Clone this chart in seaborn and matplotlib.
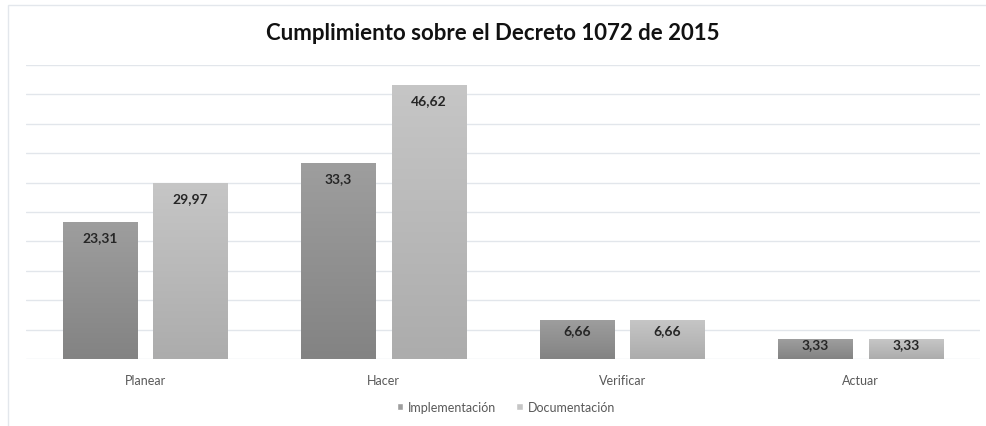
import numpy as np
import pandas as pd
import matplotlib
matplotlib.use("Agg")
import matplotlib.pyplot as plt
import seaborn as sns
from matplotlib.colors import LinearSegmentedColormap
from matplotlib.patches import Rectangle

# data
categories = ["Planear", "Hacer", "Verificar", "Actuar"]
implementacion = [23.31, 33.3, 6.66, 3.33]
documentacion = [29.97, 46.62, 6.66, 3.33]
labels_impl = ["23,31", "33,3", "6,66", "3,33"]
labels_doc = ["29,97", "46,62", "6,66", "3,33"]
series = ["Implementación", "Documentación"]
title = "Cumplimiento sobre el Decreto 1072 de 2015"

# colours (bottom, top) of each gradient
GRAD = {
    "Implementación": ("#838383", "#9e9e9e"),
    "Documentación": ("#acacac", "#c6c6c6"),
}
GRID = "#e2e6eb"

df = pd.DataFrame({
    "categoria": categories * 2,
    "valor": implementacion + documentacion,
    "serie": [series[0]] * 4 + [series[1]] * 4,
})

sns.set_style("white")
plt.rcParams["font.family"] = ["Lato", "DejaVu Sans"]

fig = plt.figure(figsize=(9.86, 4.27), dpi=100)
ax = fig.add_axes([26 / 986, 1 - 360 / 427, 954 / 986, 294 / 427])

palette = {s: GRAD[s][1] for s in series}
sns.barplot(data=df, x="categoria", y="valor", hue="serie", order=categories,
            hue_order=series, palette=palette, width=0.76, gap=0.18,
            saturation=1, legend=True, ax=ax, zorder=2)

# gradient fill clipped to each bar
grad = np.linspace(0, 1, 256).reshape(-1, 1)
bars = [p for p in ax.patches if p.get_height() > 0]
n = len(categories)
for i, p in enumerate(bars):
    s = series[i // n]
    cmap = LinearSegmentedColormap.from_list(s, [GRAD[s][0], GRAD[s][1]])
    x, w, h = p.get_x(), p.get_width(), p.get_height()
    im = ax.imshow(grad, extent=[x, x + w, 0, h], origin="lower",
                   aspect="auto", cmap=cmap, zorder=3)
    im.set_clip_path(p)
    p.set_edgecolor("none")

# value labels inside bar ends
for i, p in enumerate(bars):
    txt = (labels_impl + labels_doc)[i]
    v = p.get_height()
    off = min(2.6, v * 0.25)
    ax.text(p.get_x() + p.get_width() / 2, v - off, txt, ha="center",
            va="center", fontsize=10, fontweight="bold", color="#262626",
            zorder=5)

ax.set_ylim(0, 50)
ax.set_xlim(-0.5, n - 0.5)
ax.set_yticks(np.arange(0, 51, 5))
ax.set_yticklabels([])
ax.grid(axis="y", color=GRID, linewidth=1, zorder=0)
ax.set_axisbelow(True)
ax.tick_params(axis="both", length=0)
ax.tick_params(axis="x", labelsize=9, labelcolor="#595959", pad=11)
ax.tick_params(axis="y", pad=0)
ax.set_xlabel("")
ax.set_ylabel("")
for sp in ax.spines.values():
    sp.set_visible(False)

ax.legend(handles=ax.get_legend().legend_handles, labels=series,
          loc="center", bbox_to_anchor=(506 / 986, 1 - 408 / 427),
          bbox_transform=fig.transFigure, ncol=2, frameon=False,
          fontsize=9, labelcolor="#595959", handlelength=0.5,
          handleheight=0.5, handletextpad=0.4, columnspacing=1.6)

fig.text(0.5, 1 - 33 / 427, title, ha="center", va="center",
         fontsize=16, fontweight="bold", color="#111111")

# chart frame
fig.patches.append(Rectangle((8 / 986, -0.2), 1.2, 1 - 6 / 427 + 0.2,
                             transform=fig.transFigure, fill=False,
                             edgecolor="#e3e7ec", linewidth=1))

fig.savefig("out.png", dpi=100)
